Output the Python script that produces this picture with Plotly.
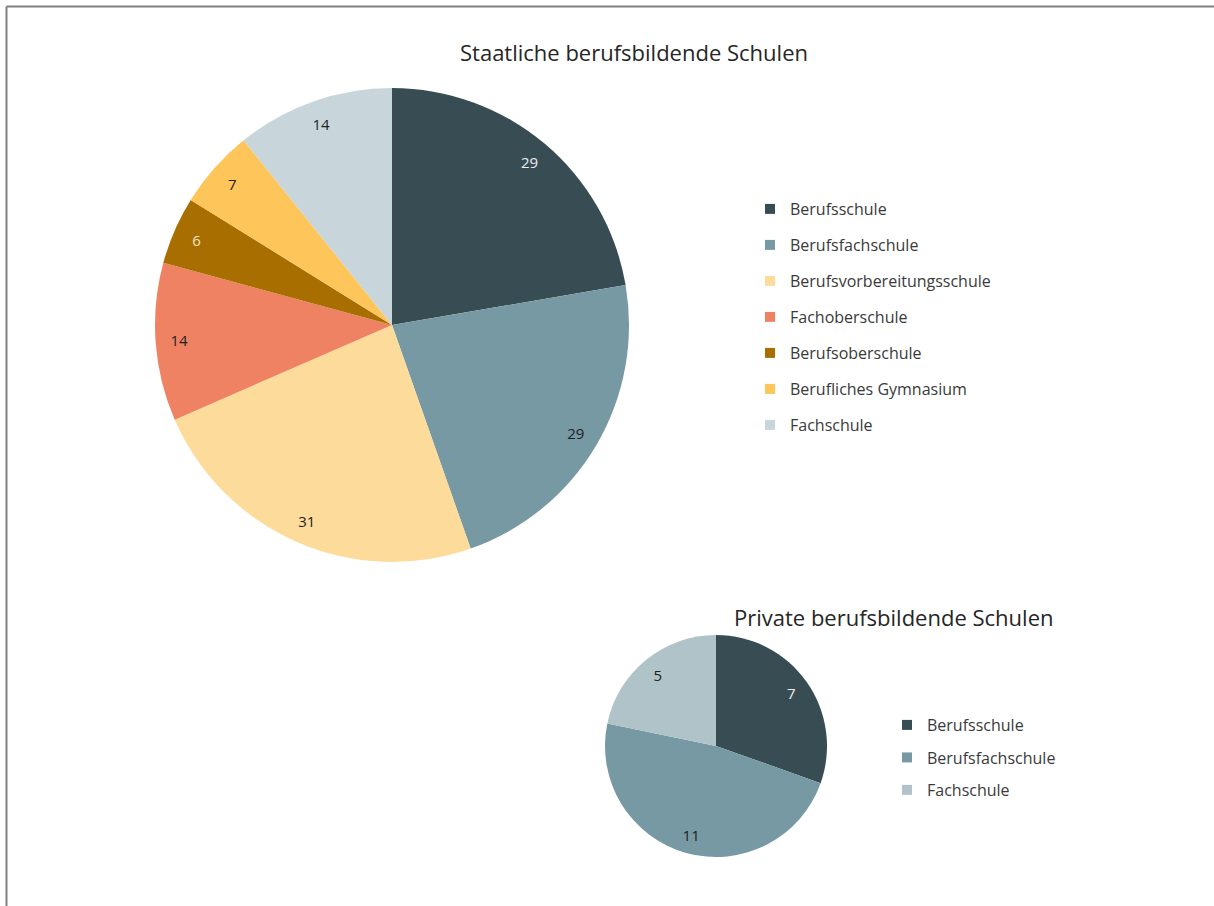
import plotly.graph_objects as go

# Staatliche berufsbildende Schulen
state_types = ["Berufsschule", "Berufsfachschule", "Berufsvorbereitungsschule",
               "Fachoberschule", "Berufsoberschule", "Berufliches Gymnasium", "Fachschule"]
state_counts = [29, 29, 31, 14, 6, 7, 14]
state_colors = ["#384C54", "#7799A3", "#FDDB9B", "#EE8263", "#A86F00", "#FDC55A", "#C8D6DC"]
state_text_colors = ["#EDEDED", "#1E1E1E", "#1E1E1E", "#1E1E1E", "#F3E3BE", "#1E1E1E", "#1E1E1E"]

# Private berufsbildende Schulen
private_types = ["Berufsschule", "Berufsfachschule", "Fachschule"]
private_counts = [7, 11, 5]
private_colors = ["#384C54", "#7799A3", "#AFC3C8"]
private_text_colors = ["#EDEDED", "#1E1E1E", "#1E1E1E"]

W, H = 1214, 906
FONT = "Open Sans"


def px_x(v):
    return v / W


def px_y(v):
    return 1 - v / H


big_dom = dict(x=[px_x(155), px_x(629)], y=[px_y(562), px_y(88)])
small_dom = dict(x=[px_x(605), px_x(827)], y=[px_y(857), px_y(635)])

fig = go.Figure()


def add_pie(labels, values, colors, text_colors, domain, hole):
    # filled pie
    fig.add_trace(go.Pie(
        labels=labels, values=values, domain=domain, sort=False,
        direction="clockwise", rotation=0, textinfo="none",
        marker=dict(colors=colors, line=dict(width=0)),
        showlegend=False, hoverinfo="label+value",
    ))
    # transparent ring carrying the value labels near the rim
    fig.add_trace(go.Pie(
        labels=labels, values=values, domain=domain, sort=False,
        direction="clockwise", rotation=0, hole=hole,
        textinfo="value", textposition="inside",
        insidetextorientation="horizontal",
        textfont=dict(family=FONT, size=15, color=text_colors),
        marker=dict(colors=["rgba(0,0,0,0)"] * len(values), line=dict(width=0)),
        showlegend=False, hoverinfo="skip",
    ))


add_pie(state_types, state_counts, state_colors, state_text_colors, big_dom, 0.8)
add_pie(private_types, private_counts, private_colors, private_text_colors, small_dom, 0.66)

# legend entries
for name, col in zip(state_types, state_colors):
    fig.add_trace(go.Scatter(
        x=[None], y=[None], mode="markers", name=name, legendgroup="s_" + name,
        marker=dict(symbol="square", size=10, color=col), legend="legend",
    ))
for name, col in zip(private_types, private_colors):
    fig.add_trace(go.Scatter(
        x=[None], y=[None], mode="markers", name=name, legendgroup="p_" + name,
        marker=dict(symbol="square", size=10, color=col), legend="legend2",
    ))

legend_style = dict(
    font=dict(family=FONT, size=16, color="#3A3A3A"),
    bgcolor="rgba(0,0,0,0)", borderwidth=0, traceorder="grouped",
    xanchor="left", yanchor="top", itemclick=False, itemdoubleclick=False,
)

title_font = dict(family=FONT, size=22, color="#262626")

fig.update_layout(
    width=W, height=H,
    margin=dict(l=0, r=0, t=0, b=0),
    paper_bgcolor="white", plot_bgcolor="white",
    xaxis=dict(visible=False), yaxis=dict(visible=False),
    uniformtext=dict(minsize=15, mode="show"),
    legend=dict(x=px_x(750), y=px_y(192), tracegroupgap=12.2, **legend_style),
    legend2=dict(x=px_x(887), y=px_y(708), tracegroupgap=8.7, **legend_style),
    annotations=[
        dict(text="Staatliche berufsbildende Schulen", x=px_x(634), y=px_y(52),
             xref="paper", yref="paper", xanchor="center", yanchor="middle",
             showarrow=False, font=title_font),
        dict(text="Private berufsbildende Schulen", x=px_x(893), y=px_y(617),
             xref="paper", yref="paper", xanchor="center", yanchor="middle",
             showarrow=False, font=title_font),
    ],
    shapes=[
        dict(type="line", xref="paper", yref="paper", x0=px_x(6.5), x1=1.0,
             y0=px_y(6.5), y1=px_y(6.5), line=dict(color="#808080", width=2)),
        dict(type="line", xref="paper", yref="paper", x0=px_x(6.5), x1=px_x(6.5),
             y0=0.0, y1=px_y(6.5), line=dict(color="#808080", width=2)),
    ],
)

fig.write_html("out.html")
